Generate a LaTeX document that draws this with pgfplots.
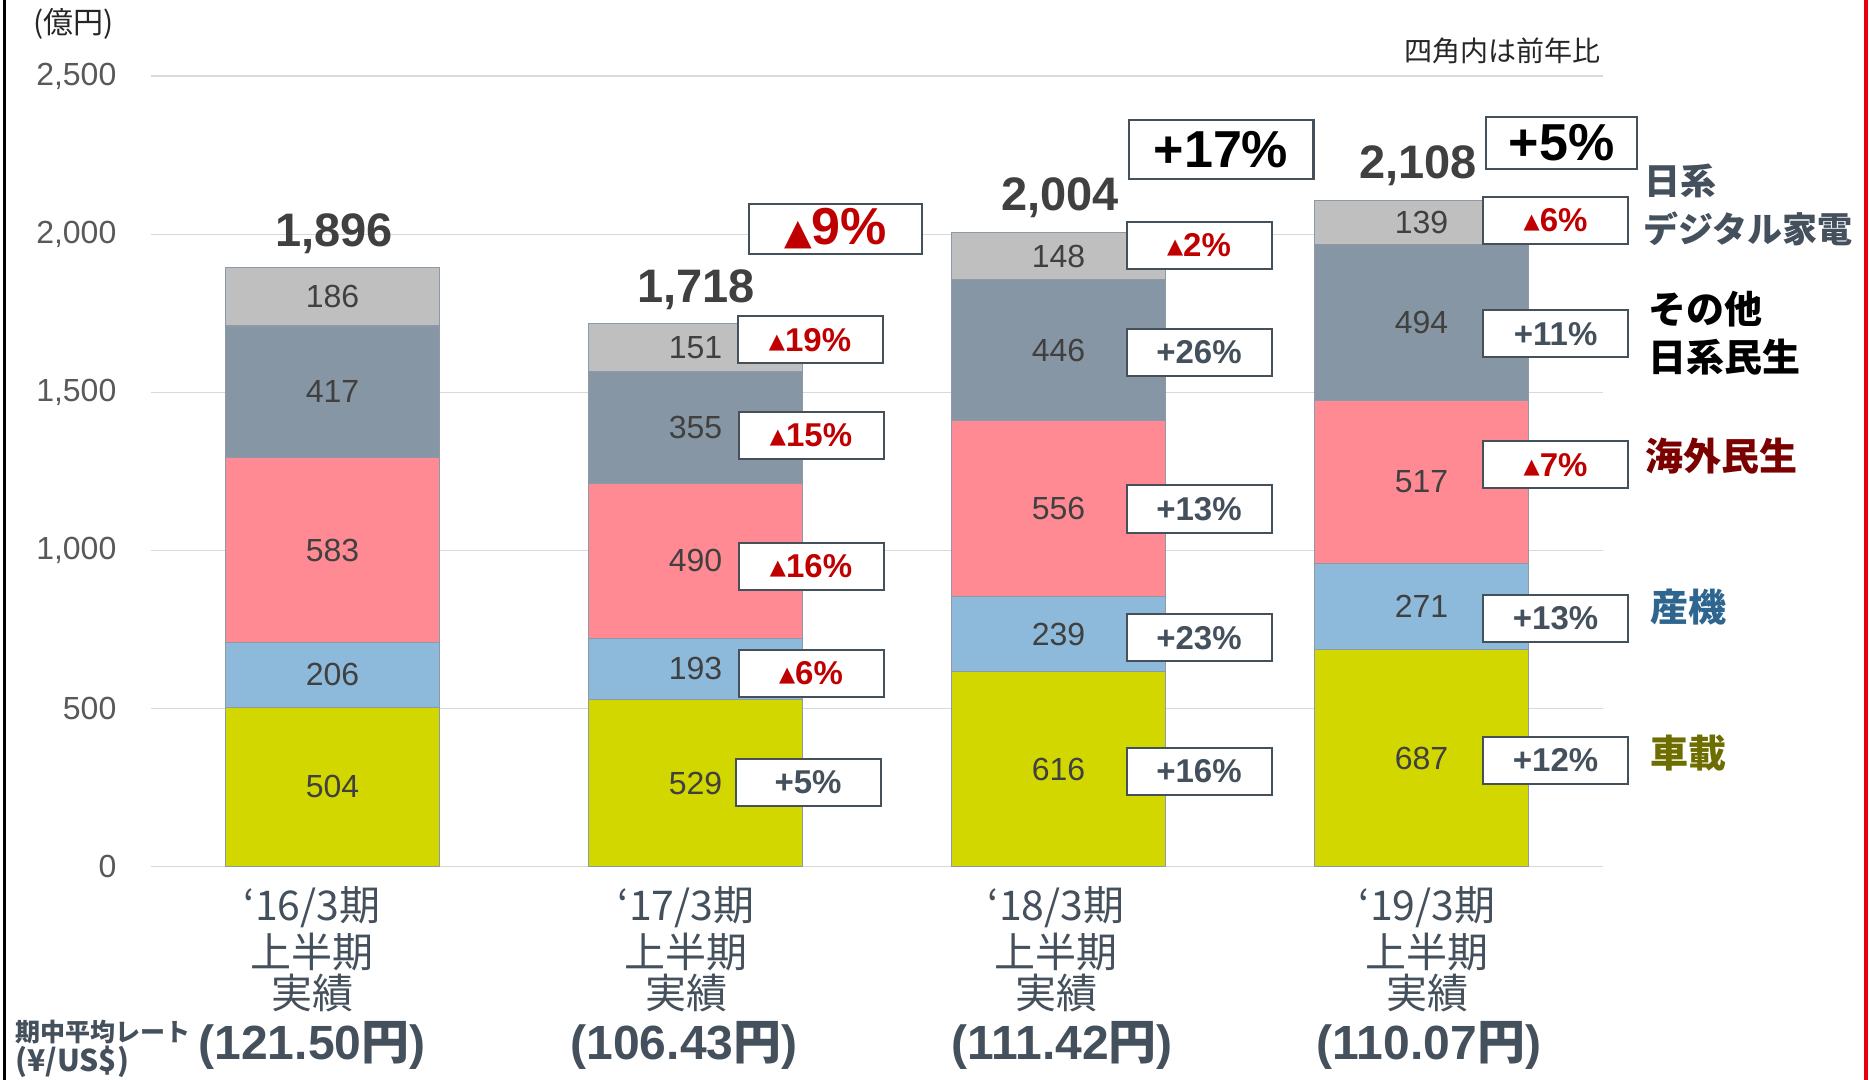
\documentclass[border=0pt]{standalone}
\usepackage{pgfplots}
\pgfplotsset{compat=1.18}
\usepackage{pgfplotstable}
\usepackage{fontspec}
\setmainfont{Liberation Sans}
\newfontfamily\jp{Noto Sans CJK JP}
\newfontfamily\dv{DejaVu Sans}
\definecolor{cA}{HTML}{D2D700}
\definecolor{cB}{HTML}{8DB9DB}
\definecolor{cC}{HTML}{FF8A94}
\definecolor{cD}{HTML}{8796A4}
\definecolor{cE}{HTML}{BFBFBF}
\definecolor{edge}{HTML}{8C9AA8}
\definecolor{slate}{HTML}{44505C}
\definecolor{dark}{HTML}{404040}
\definecolor{ink}{HTML}{262626}
\definecolor{tickc}{HTML}{595959}
\definecolor{gridc}{HTML}{D9D9D9}
\definecolor{boxc}{HTML}{44505A}
\definecolor{redt}{HTML}{C00000}
\definecolor{maroon}{HTML}{7B0000}
\definecolor{steel}{HTML}{2F6690}
\definecolor{olive}{HTML}{6E6E00}
\definecolor{frame}{HTML}{E60012}
\newcommand{\fs}[1]{\fontsize{#1}{#1}\selectfont}
\newcommand{\tri}{{\dv\fs{10.5}\raisebox{1.5pt}{▲}}}
\newcommand{\pbox}[3]{\node[draw=boxc, line width=1pt, fill=white, minimum width=72.5pt, minimum height=23.5pt, inner sep=0pt, font=\fs{16.5}\bfseries] at (#1,#2) {#3};}
\newcommand{\up}[1]{\textcolor{slate}{+#1\%}}
\newcommand{\dn}[1]{\textcolor{redt}{\tri#1\%}}

\pgfplotstableread{
x a b c d e
0 504 206 583 417 186
1 529 193 490 355 151
2 616 239 556 446 148
3 687 271 517 494 139
}\segdata

% label positions: segment middles, and the segment values
\pgfplotstableread{
x mid lab
0 252 504
0 607 206
0 1001.5 583
0 1501.5 417
0 1803 186
1 264.5 529
1 625.5 193
1 967 490
1 1389.5 355
1 1642.5 151
2 308 616
2 735.5 239
2 1133 556
2 1634 446
2 1931 148
3 343.5 687
3 822.5 271
3 1216.5 517
3 1722 494
3 2038.5 139
}\labdata

\pgfplotsset{frameaxis/.style={at={(75.5pt,-433.3pt)}, anchor=south west, scale only axis,
 width=726pt, height=395.15pt, xmin=-0.5, xmax=3.5, ymin=0, ymax=2500}}

\begin{document}
\begin{tikzpicture}
\path[use as bounding box] (0pt,0pt) rectangle (934.5pt,-540pt);
\fill[white] (0pt,0pt) rectangle (934.5pt,-540pt);
\begin{axis}[frameaxis,
 ybar stacked, bar width=106.7pt,
 axis line style={draw=none}, major tick length=0pt,
 xtick=\empty,
 ytick={0,500,1000,1500,2000,2500},
 yticklabels={0,500,{1,000},{1,500},{2,000},{2,500}},
 yticklabel style={font=\fs{16}, text=tickc, anchor=east, xshift=-13.8pt},
 ymajorgrids, grid style={draw=gridc, line width=0.8pt},
]
\addplot[fill=cA, draw=edge, line width=0.6pt] table[x=x,y=a]{\segdata};
\addplot[fill=cB, draw=edge, line width=0.6pt] table[x=x,y=b]{\segdata};
\addplot[fill=cC, draw=edge, line width=0.6pt] table[x=x,y=c]{\segdata};
\addplot[fill=cD, draw=edge, line width=0.6pt] table[x=x,y=d]{\segdata};
\addplot[fill=cE, draw=edge, line width=0.6pt] table[x=x,y=e]{\segdata};
\end{axis}
\begin{axis}[frameaxis, hide axis, clip=false]
\addplot[only marks, mark=none, nodes near coords, point meta=explicit symbolic,
  every node near coord/.append style={anchor=center, font=\fs{16}, text=dark, inner sep=0pt}]
  table[x=x, y=mid, meta=lab]{\labdata};
\end{axis}
\begin{scope}[x=0.5pt,y=-0.5pt]
% frame lines
\draw[black, line width=1.5pt] (4.5,0) -- (4.5,1080);
\draw[frame, line width=1.6pt] (1866,0) -- (1866,1080);
% unit and note
\node[anchor=west, text=ink, font=\jp\fs{15}, inner sep=0pt] at (33,24) {(億円)};
\node[anchor=east, text=ink, font=\jp\fs{14}, inner sep=0pt] at (1601,51) {四角内は前年比};
% totals
\tikzset{tot/.style={anchor=base, font=\fs{23.5}\bfseries, text=dark, inner sep=0pt}}
\node[tot] at (334,247) {1,896};
\node[tot] at (696,303) {1,718};
\node[tot] at (1060,211) {2,004};
\node[tot] at (1418,179) {2,108};
% small boxes
\pbox{810}{339.7}{\dn{19}}
\pbox{811}{435.1}{\dn{15}}
\pbox{811}{566.2}{\dn{16}}
\pbox{811}{673.5}{\dn{6}}
\pbox{808}{782}{\up{5}}
\pbox{1199}{245.6}{\dn{2}}
\pbox{1199}{352.5}{\up{26}}
\pbox{1199}{509}{\up{13}}
\pbox{1199}{637.7}{\up{23}}
\pbox{1199}{771.2}{\up{16}}
\pbox{1555.6}{220.5}{\dn{6}}
\pbox{1555.6}{333.8}{\up{11}}
\pbox{1555.6}{464.9}{\dn{7}}
\pbox{1555.6}{618.6}{\up{13}}
\pbox{1555.6}{760.5}{\up{12}}
% big boxes
\node[draw=boxc, line width=1.1pt, fill=white, minimum width=86.5pt, minimum height=25pt, inner sep=0pt] at (835.6,228.9) {\textcolor{redt}{{\dv\fs{18}▲}\fs{26}\bfseries 9\%}};
\node[draw=boxc, line width=1.1pt, fill=white, minimum width=92.4pt, minimum height=29.2pt, inner sep=0pt] at (1221,149.6) {\fs{26}\bfseries +17\%};
\node[draw=boxc, line width=1.1pt, fill=white, minimum width=75.7pt, minimum height=26.2pt, inner sep=0pt] at (1561.5,143) {\fs{26}\bfseries +5\%};
% right-side labels
\tikzset{lg/.style={anchor=west, inner sep=0pt}}
\node[lg, text=slate, font=\jp\bfseries\fs{18}] at (1644,181) {日系};
\node[lg, text=slate, font=\jp\bfseries\fs{17.5}] at (1643,229) {デジタル家電};
\node[lg, text=black, font=\jp\bfseries\fs{19}] at (1648,309) {その他};
\node[lg, text=black, font=\jp\bfseries\fs{19}] at (1648,357) {日系民生};
\node[lg, text=maroon, font=\jp\bfseries\fs{19}] at (1645,456) {海外民生};
\node[lg, text=steel, font=\jp\bfseries\fs{19}] at (1650,607) {産機};
\node[lg, text=olive, font=\jp\bfseries\fs{19}] at (1650,753) {車載};
% category labels
\tikzset{cl/.style={text=slate, font=\jp\fs{20.5}, inner sep=0pt}}
\node[cl] at (312,907) {‘16/3期};
\node[cl] at (312,952) {上半期};
\node[cl] at (312,993) {実績};
\node[cl] at (686,907) {‘17/3期};
\node[cl] at (686,952) {上半期};
\node[cl] at (686,993) {実績};
\node[cl] at (1056,907) {‘18/3期};
\node[cl] at (1056,952) {上半期};
\node[cl] at (1056,993) {実績};
\node[cl] at (1427,907) {‘19/3期};
\node[cl] at (1427,952) {上半期};
\node[cl] at (1427,993) {実績};
\tikzset{rt/.style={text=slate, font=\fs{24}\bfseries, inner sep=0pt}}
\node[rt] at (312,1045) {(121.50{\jp 円})};
\node[rt] at (684,1045) {(106.43{\jp 円})};
\node[rt] at (1062,1045) {(111.42{\jp 円})};
\node[rt] at (1429,1045) {(110.07{\jp 円})};
\node[anchor=west, text=slate, font=\jp\bfseries\fs{12.5}, inner sep=0pt] at (15,1032) {期中平均レート};
\node[anchor=west, text=slate, font=\jp\bfseries\fs{15}, inner sep=0pt] at (15,1062) {(¥/US\$)};
\end{scope}
\end{tikzpicture}
\end{document}
